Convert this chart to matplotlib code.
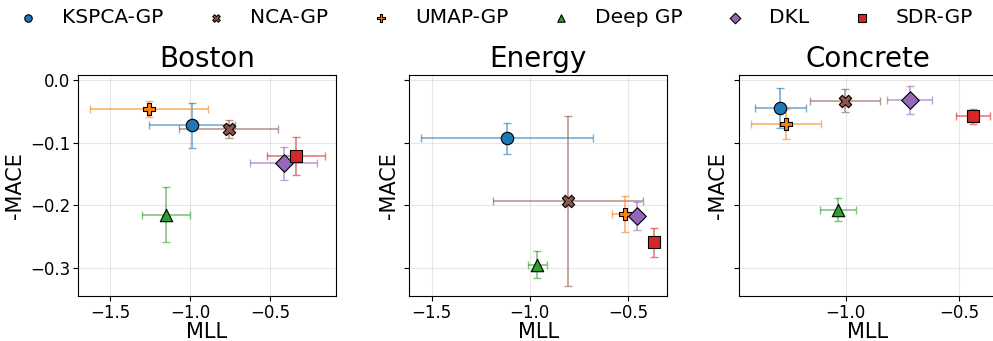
import numpy as np
import matplotlib.pyplot as plt
from matplotlib.ticker import MultipleLocator

# Method names and styles
methods = ["KSPCA-GP", "NCA-GP", "UMAP-GP", "Deep GP", "DKL", "SDR-GP"]
colors = ["#1f77b4", "#8c564b", "#ff7f0e", "#2ca02c", "#9467bd", "#d62728"]
markers = ["o", "X", "P", "^", "D", "s"]

datasets = ["Boston", "Energy", "Concrete"]

# MLL (x) and -MACE (y) with std errors, per dataset, order follows methods
boston_x = [-0.99, -0.76, -1.256, -1.15, -0.417, -0.34]
boston_xerr = [0.27, 0.31, 0.37, 0.15, 0.21, 0.18]
boston_y = [-0.072, -0.078, -0.046, -0.215, -0.133, -0.121]
boston_yerr = [0.036, 0.014, 0.013, 0.044, 0.026, 0.03]

energy_x = [-1.116, -0.805, -0.516, -0.961, -0.455, -0.37]
energy_xerr = [0.44, 0.38, 0.067, 0.047, 0.03, 0.02]
energy_y = [-0.093, -0.193, -0.214, -0.295, -0.217, -0.259]
energy_yerr = [0.025, 0.136, 0.029, 0.022, 0.022, 0.023]

concrete_x = [-1.287, -1.003, -1.263, -1.033, -0.719, -0.442]
concrete_xerr = [0.113, 0.155, 0.155, 0.078, 0.1, 0.075]
concrete_y = [-0.045, -0.033, -0.070, -0.207, -0.032, -0.058]
concrete_yerr = [0.032, 0.018, 0.024, 0.019, 0.023, 0.012]

all_data = [
    (boston_x, boston_xerr, boston_y, boston_yerr),
    (energy_x, energy_xerr, energy_y, energy_yerr),
    (concrete_x, concrete_xerr, concrete_y, concrete_yerr),
]
xlims = [(-1.70, -0.09), (-1.614, -0.30), (-1.47, -0.335)]

fig = plt.figure(figsize=(9.93, 3.41), dpi=100)
lefts = [0.0785, 0.412, 0.744]
width = 0.26
axes = []
for i, left in enumerate(lefts):
    if i == 0:
        ax = fig.add_axes([left, 0.132, width, 0.648])
    else:
        ax = fig.add_axes([left, 0.132, width, 0.648], sharey=axes[0])
    axes.append(ax)

handles = []
for ax, name, (xs, xe, ys, ye), xl in zip(axes, datasets, all_data, xlims):
    for j in range(len(methods)):
        ax.errorbar(xs[j], ys[j], xerr=xe[j], yerr=ye[j], fmt="none",
                    ecolor=colors[j], elinewidth=1.2, capsize=3, alpha=0.6)
        h = ax.scatter(xs[j], ys[j], marker=markers[j], s=80, color=colors[j],
                       edgecolor="black", linewidth=0.8, zorder=3, label=methods[j])
        if ax is axes[0]:
            handles.append(h)
    ax.set_title(name, fontsize=20)
    ax.set_xlabel("MLL", fontsize=15, labelpad=0)
    ax.set_ylabel("-MACE", fontsize=15)
    ax.set_xlim(*xl)
    ax.xaxis.set_major_locator(MultipleLocator(0.5))
    ax.grid(True, alpha=0.3)
    ax.tick_params(labelsize=12, pad=2)

axes[0].set_ylim(-0.345, 0.008)
axes[0].set_yticks([0.0, -0.1, -0.2, -0.3])
for ax in axes[1:]:
    ax.tick_params(labelleft=False)

fig.legend(handles=handles, labels=methods, loc="upper center",
           bbox_to_anchor=(0.5, 1.03), ncol=6, frameon=False, fontsize=14.5,
           markerscale=0.6, handlelength=0.8, handletextpad=1.3,
           columnspacing=2.2)

fig.savefig("out.png", dpi=100)
